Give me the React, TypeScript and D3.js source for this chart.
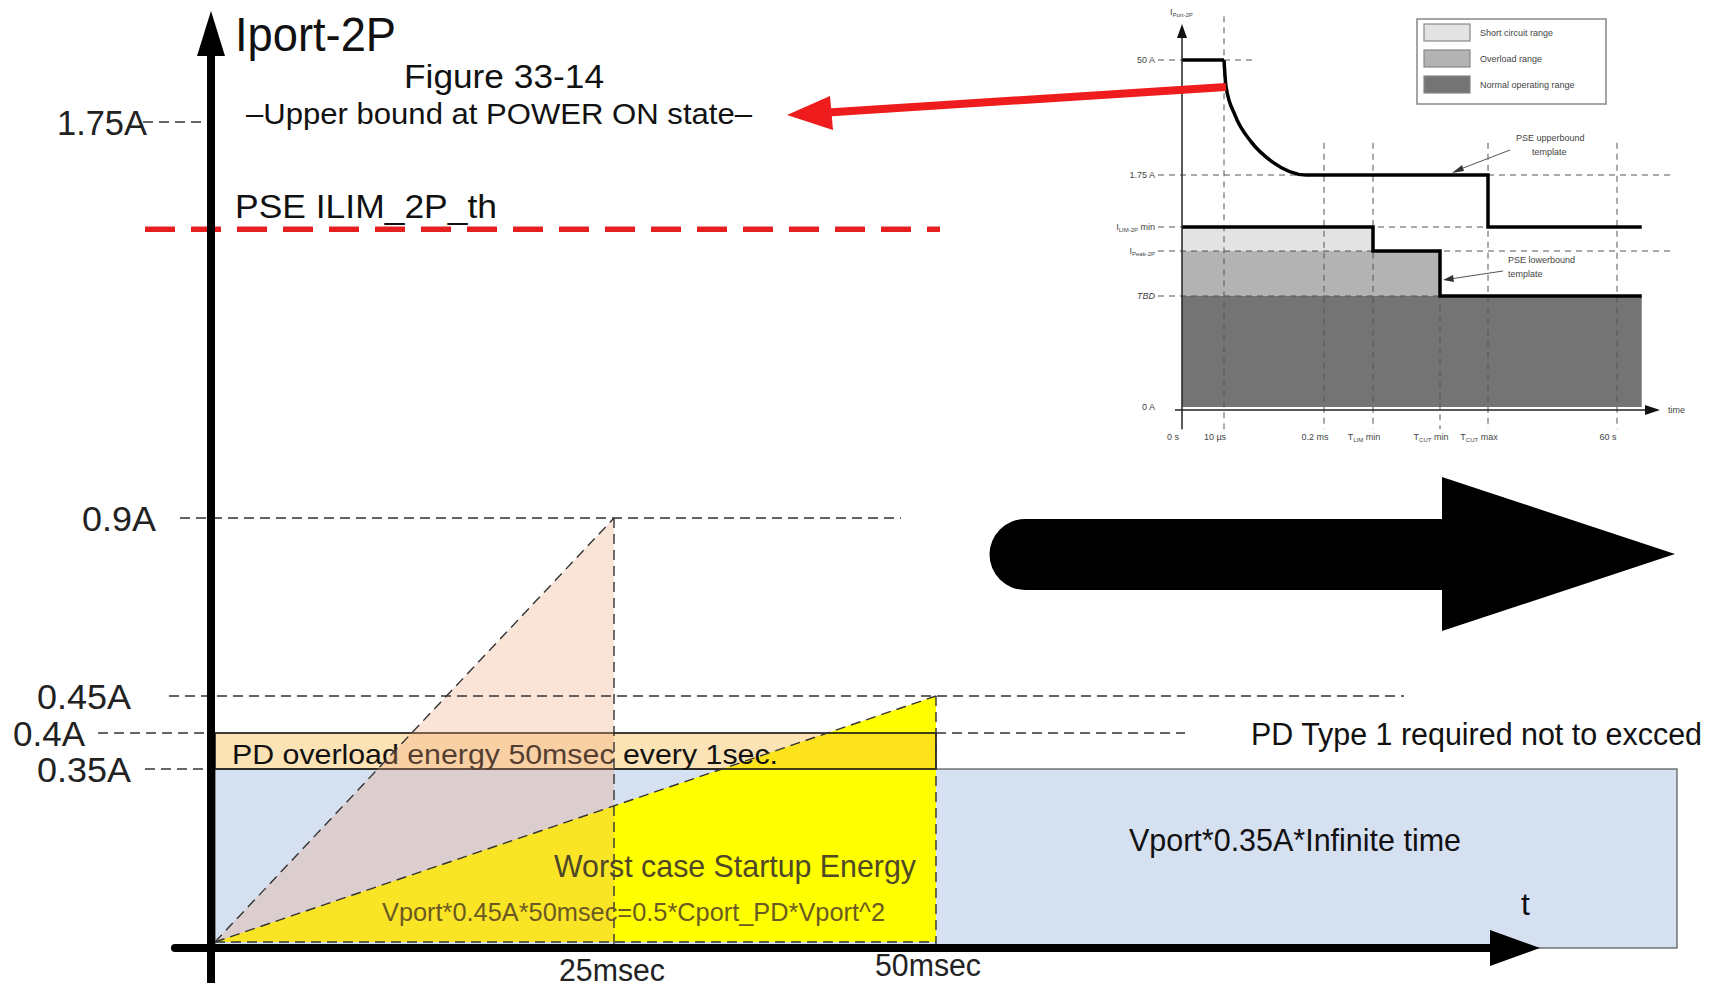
import React from "react";
import * as d3 from "d3";

const W = 1713;
const H = 987;

// ---------- main diagram data ----------
const currentLevels = [0, 0.35, 0.4, 0.45, 0.9, 1.75];
const currentTickValues = [1.75, 0.9, 0.45, 0.4, 0.35];
const currentTickLabels = ["1.75A", "0.9A", "0.45A", "0.4A", "0.35A"];
const timeDomain = [0, 25, 50, 110];
const timeTickValues = [25, 50];
const timeTickLabels = ["25msec", "50msec"];
const ilimThreshold = 1.52;
const continuousCurrent = 0.35;
const overloadCurrent = 0.4;
const overloadDuration = 50;
const startupPeakCurrent = 0.45;
const startupDuration = 50;
const inrushPeakCurrent = 0.9;
const inrushPeakTime = 25;
const infiniteTime = 110;

// ---------- inset (Figure 33-14) data ----------
const insetTimeLabels: [string, string, string][] = [
  ["0 s", "", ""],
  ["10 µs", "", ""],
  ["0.2 ms", "", ""],
  ["T", "LIM", " min"],
  ["T", "CUT", " min"],
  ["T", "CUT", " max"],
  ["60 s", "", ""],
];
const insetLevelLabels: [string, string, string][] = [
  ["0 A", "", ""],
  ["TBD", "", ""],
  ["I", "Peak-2P", ""],
  ["I", "LIM-2P", " min"],
  ["1.75 A", "", ""],
  ["50 A", "", ""],
];
const upperFlat: [number, number][] = [[0, 5], [1, 5]];
const upperCurve: [number, number][] = [[1, 5], [1.02, 4.77], [1.11, 4.52], [1.27, 4.29], [1.49, 4.11], [1.82, 4], [2, 4]];
const upperSteps: [number, number][] = [[2, 4], [5, 4], [5, 3], [6.45, 3]];
const lowerSteps: [number, number][] = [[0, 3], [3, 3], [3, 2], [4, 2], [4, 1], [6.45, 1]];
const shortCircuitRegion: [number, number][] = [[0, 3], [3, 3], [3, 2], [0, 2]];
const overloadRegion: [number, number][] = [[0, 2], [4, 2], [4, 1], [0, 1]];
const normalRegion: [number, number][] = [[0, 1], [6.45, 1], [6.45, 0], [0, 0]];
const guideTimes = [1, 2, 3, 4, 5, 6];
const guideTops = [5.38, 4.28, 4.28, 2.07, 4.28, 4.28];
const levelGuideEnds = [0, 6.45, 7, 6.45, 7, 1.32];
const legendLabels = ["Short circuit range", "Overload range", "Normal operating range"];

const FONT = "'Liberation Sans Narrow', 'Arial Narrow', 'Liberation Sans', Arial, sans-serif";
const IFONT = "'Liberation Sans', Arial, sans-serif";

export default function App() {
  const x = d3.scaleLinear().domain(timeDomain).range([215, 614, 936, 1677]);
  const y = d3.scaleLinear().domain(currentLevels).range([942, 769, 733, 696, 518, 122]);
  const axisY = y(0) + 6;
  const axisX = x(0) - 4;

  const ix = d3.scaleLinear().domain(d3.range(8)).range([1182, 1224, 1324, 1373, 1440, 1488, 1617, 1672]);
  const iy = d3.scaleLinear().domain(d3.range(6)).range([407, 296, 251, 227, 175, 60]);

  const mline = d3.line<[number, number]>().x((d) => x(d[0])).y((d) => y(d[1]));
  const iline = d3.line<[number, number]>().x((d) => ix(d[0])).y((d) => iy(d[1]));
  const icurve = d3.line<[number, number]>().x((d) => ix(d[0])).y((d) => iy(d[1])).curve(d3.curveMonotoneX);

  const dash = "10 6";

  // layout of the current labels (right edge, width, dash start, dash end)
  const tickLayout: Record<string, { right: number; width: number; d0: number; d1: number; d2?: number; d3?: number }> = {
    "1.75A": { right: 147, width: 90, d0: 143, d1: 203 },
    "0.9A": { right: 156, width: 74, d0: 180, d1: 901 },
    "0.45A": { right: 131, width: 94, d0: 169, d1: 1404 },
    "0.4A": { right: 85, width: 72, d0: 98, d1: 215, d2: x(overloadDuration), d3: 1185 },
    "0.35A": { right: 131, width: 94, d0: 145, d1: 208 },
  };

  const peach = mline([[0, 0], [inrushPeakTime, inrushPeakCurrent], [inrushPeakTime, 0]]) + "Z";
  const yellow = mline([[0, 0], [startupDuration, startupPeakCurrent], [startupDuration, 0]]) + "Z";

  const legendFill = ["#e3e3e3", "#b3b3b3", "#747474"];

  return (
    <svg
      width={W}
      height={H}
      style={{ position: "fixed", left: 0, top: 0, background: "#fff" }}
      fontFamily={FONT}
    >
      <rect x={0} y={0} width={W} height={H} fill="#fff" />

      {/* continuous-power band */}
      <rect
        x={x(0)}
        y={y(continuousCurrent)}
        width={x(infiniteTime) - x(0)}
        height={axisY - y(continuousCurrent)}
        fill="#d5e0f1"
        stroke="#555"
        strokeWidth={1.2}
      />
      {/* startup energy triangle */}
      <path d={yellow} fill="#ffff00" />
      {/* overload band */}
      <rect
        x={x(0)}
        y={y(overloadCurrent)}
        width={x(overloadDuration) - x(0)}
        height={y(continuousCurrent) - y(overloadCurrent)}
        fill="rgb(248,185,70)"
        fillOpacity={0.4}
        stroke="#111"
        strokeWidth={1.6}
      />
      <text x={232} y={764} fontSize={28} textLength={546} lengthAdjust="spacingAndGlyphs" fill="#111">
        PD overload energy 50msec every 1sec.
      </text>
      {/* inrush peak triangle */}
      <path d={peach} fill="rgb(240,165,125)" fillOpacity={0.3} />

      {/* dashed outlines */}
      <g stroke="#333" strokeWidth={1.4} strokeDasharray={dash} fill="none">
        <path d={mline([[0, 0], [inrushPeakTime, inrushPeakCurrent]]) || ""} />
        <line x1={x(inrushPeakTime)} x2={x(inrushPeakTime)} y1={y(inrushPeakCurrent)} y2={axisY} />
        <path d={mline([[0, 0], [startupDuration, startupPeakCurrent]]) || ""} />
        <path d={mline([[0, 0], [startupDuration, 0]]) || ""} />
        <line x1={x(startupDuration)} x2={x(startupDuration)} y1={y(startupPeakCurrent)} y2={axisY} />
        {currentTickValues.map((v, i) => {
          const L = tickLayout[currentTickLabels[i]];
          return (
            <g key={i}>
              <line x1={L.d0} x2={L.d1} y1={y(v)} y2={y(v)} />
              {L.d2 !== undefined && <line x1={L.d2} x2={L.d3} y1={y(v)} y2={y(v)} />}
            </g>
          );
        })}
      </g>

      {/* text in bands */}
      <text x={554} y={877} fontSize={32} textLength={362} lengthAdjust="spacingAndGlyphs" fill="#4f4828">
        Worst case Startup Energy
      </text>
      <text x={382} y={921} fontSize={26} textLength={503} lengthAdjust="spacingAndGlyphs" fill="#6a5a22">
        Vport*0.45A*50msec=0.5*Cport_PD*Vport^2
      </text>
      <text x={1129} y={851} fontSize={32} textLength={332} lengthAdjust="spacingAndGlyphs" fill="#111">
        Vport*0.35A*Infinite time
      </text>
      <text x={1251} y={745} fontSize={31} textLength={451} lengthAdjust="spacingAndGlyphs" fill="#111">
        PD Type 1 required not to excced
      </text>
      <text x={1521} y={915} fontSize={32} fill="#111">t</text>

      {/* PSE ILIM threshold */}
      <line
        x1={145}
        x2={940}
        y1={y(ilimThreshold)}
        y2={y(ilimThreshold)}
        stroke="#e62020"
        strokeWidth={5.5}
        strokeDasharray="30 16"
      />
      <text x={235} y={218} fontSize={33} textLength={262} lengthAdjust="spacingAndGlyphs" fill="#111">
        PSE ILIM_2P_th
      </text>

      {/* current tick labels */}
      {currentTickValues.map((v, i) => {
        const L = tickLayout[currentTickLabels[i]];
        return (
          <text
            key={i}
            x={L.right - L.width}
            y={y(v) + 13}
            fontSize={35}
            textLength={L.width}
            lengthAdjust="spacingAndGlyphs"
            fill="#222"
          >
            {currentTickLabels[i]}
          </text>
        );
      })}

      {/* time tick labels */}
      {timeTickValues.map((t, i) => (
        <text
          key={i}
          x={x(t) - (i === 0 ? 2 : 8)}
          y={i === 0 ? 981 : 976}
          fontSize={31}
          textAnchor="middle"
          textLength={106}
          lengthAdjust="spacingAndGlyphs"
          fill="#222"
        >
          {timeTickLabels[i]}
        </text>
      ))}

      {/* axes */}
      <line x1={axisX} x2={axisX} y1={983} y2={50} stroke="#000" strokeWidth={8} />
      <path d={`M${axisX},11 L${axisX - 14},56 L${axisX + 14},56 Z`} fill="#000" />
      <line x1={175} x2={1495} y1={axisY} y2={axisY} stroke="#000" strokeWidth={8} strokeLinecap="round" />
      <path d={`M1540,${axisY} L1490,${axisY - 18} L1490,${axisY + 18} Z`} fill="#000" />

      <text x={235} y={51} fontSize={48} textLength={161} lengthAdjust="spacingAndGlyphs" fill="#111">
        Iport-2P
      </text>
      <text x={404} y={88} fontSize={34} textLength={200} lengthAdjust="spacingAndGlyphs" fill="#111">
        Figure 33-14
      </text>
      <text x={246} y={124} fontSize={30} textLength={506} lengthAdjust="spacingAndGlyphs" fill="#111">
        –Upper bound at POWER ON state–
      </text>

      {/* big black arrow */}
      <path
        d="M1025,519 H1442 V477 L1675,554 L1442,631 V590 H1025 A35.5,35.5 0 0 1 1025,519 Z"
        fill="#000"
      />

      {/* ---------- inset ---------- */}
      <g fontFamily={IFONT}>
        <path d={iline(normalRegion) + "Z"} fill={legendFill[2]} />
        <path d={iline(overloadRegion) + "Z"} fill={legendFill[1]} />
        <path d={iline(shortCircuitRegion) + "Z"} fill={legendFill[0]} />

        <g stroke="#555" strokeWidth={1} strokeDasharray="6 5" fill="none">
          {guideTimes.map((t, i) => (
            <line key={i} x1={ix(t)} x2={ix(t)} y1={iy(guideTops[i])} y2={iy(-0.2)} />
          ))}
          {insetLevelLabels.map((_, i) =>
            i === 0 ? null : (
              <line key={i} x1={1158} x2={ix(levelGuideEnds[i])} y1={iy(i)} y2={iy(i)} />
            )
          )}
        </g>

        <g stroke="#000" strokeWidth={3.5} fill="none">
          <path d={iline(upperFlat) || ""} />
          <path d={icurve(upperCurve) || ""} />
          <path d={iline(upperSteps) || ""} />
          <path d={iline(lowerSteps) || ""} />
        </g>

        {/* inset axes */}
        <line x1={ix(0)} x2={ix(0)} y1={iy(-0.2)} y2={34} stroke="#222" strokeWidth={1.5} />
        <path d={`M${ix(0)},24 L${ix(0) - 5},38 L${ix(0) + 5},38 Z`} fill="#111" />
        <line x1={1175} x2={1648} y1={iy(0) + 3} y2={iy(0) + 3} stroke="#222" strokeWidth={1.5} />
        <path d={`M1660,${iy(0) + 3} L1645,${iy(0) - 2} L1645,${iy(0) + 8} Z`} fill="#111" />
        <text x={1668} y={iy(0) + 6} fontSize={9} fill="#444">time</text>
        <text x={1170} y={15} fontSize={9} fill="#444">
          I<tspan fontSize={6} dy={2}>Port-2P</tspan>
        </text>

        {insetLevelLabels.map((l, i) => (
          <text
            key={i}
            x={1155}
            y={iy(i) + 3}
            fontSize={9}
            textAnchor="end"
            fill="#444"
            fontStyle={l[0] === "TBD" ? "italic" : "normal"}
          >
            {l[0]}
            {l[1] && <tspan fontSize={6} dy={2}>{l[1]}</tspan>}
            {l[2] && <tspan dy={l[1] ? -2 : 0}>{l[2]}</tspan>}
          </text>
        ))}

        {insetTimeLabels.map((l, i) => (
          <text key={i} x={ix(i) - 9} y={440} fontSize={9} textAnchor="middle" fill="#444">
            {l[0]}
            {l[1] && <tspan fontSize={6} dy={2}>{l[1]}</tspan>}
            {l[2] && <tspan dy={l[1] ? -2 : 0}>{l[2]}</tspan>}
          </text>
        ))}

        {/* legend */}
        <rect x={1417} y={19} width={189} height={85} fill="#fff" stroke="#888" strokeWidth={1.5} />
        {legendLabels.map((l, i) => (
          <g key={i}>
            <rect x={1424} y={24 + i * 26} width={46} height={17} fill={legendFill[i]} stroke="#888" strokeWidth={1.2} />
            <text x={1480} y={36 + i * 26} fontSize={9} fill="#444">{l}</text>
          </g>
        ))}

        {/* annotations */}
        <text x={1516} y={141} fontSize={9} fill="#444">PSE upperbound</text>
        <text x={1532} y={155} fontSize={9} fill="#444">template</text>
        <line x1={1510} y1={150} x2={1458} y2={170} stroke="#555" strokeWidth={1} />
        <path d="M1452,173 L1462,165 L1464,171 Z" fill="#333" />
        <text x={1508} y={263} fontSize={9} fill="#444">PSE lowerbound</text>
        <text x={1508} y={277} fontSize={9} fill="#444">template</text>
        <line x1={1503} y1={271} x2={1450} y2={279} stroke="#555" strokeWidth={1} />
        <path d="M1443,280 L1453,275 L1454,282 Z" fill="#333" />
      </g>

      {/* red pointer arrow */}
      <line x1={1226} y1={87} x2={820} y2={113} stroke="#ee1c1c" strokeWidth={8} />
      <path d="M787,115 L830,96 L833,130 Z" fill="#ee1c1c" />
    </svg>
  );
}
